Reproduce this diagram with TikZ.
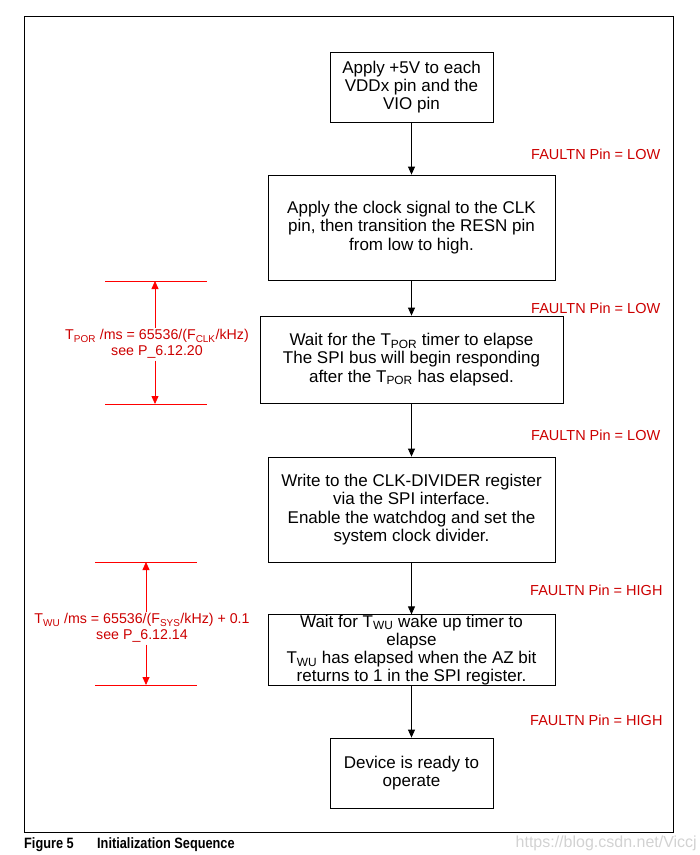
\documentclass[tikz,border=0pt]{standalone}
\usepackage{fontspec}
\setmainfont{Liberation Sans}
\newfontfamily\narrowfont[FakeStretch=0.85]{Liberation Sans}
\usetikzlibrary{arrows.meta}
\definecolor{lblred}{HTML}{CC0000}
\definecolor{linered}{HTML}{FF0000}
\begin{document}
\begin{tikzpicture}[x=1pt,y=-1pt,
 box/.style={draw, line width=0.8pt, align=center, font=\fontsize{17}{18.2}\selectfont, inner sep=0pt},
 flow/.style={-{Triangle[length=8pt,width=7pt]}, line width=0.8pt},
 faultlbl/.style={text=lblred, font=\fontsize{14.5}{16}\selectfont, anchor=west, inner sep=0pt},
 dimlbl/.style={text=lblred, font=\fontsize{14.2}{15.5}\selectfont, align=center, inner sep=2pt},
 dimline/.style={draw=linered, line width=0.8pt},
 dimarrow/.style={draw=linered, line width=0.8pt, -{Triangle[length=8pt,width=7pt,fill=linered]}}]
\useasboundingbox (0,0) rectangle (700,855);
\draw[line width=1pt] (24,16) rectangle (673,832);

\node[box, minimum width=163pt, minimum height=70pt] (b1) at (411.5,87) {Apply +5V to each\\VDDx pin and the\\VIO pin};
\node[box, minimum width=287pt, minimum height=105pt] (b2) at (411.5,227.5) {Apply the clock signal to the CLK\\pin, then transition the RESN pin\\from low to high.};
\node[box, minimum width=303pt, minimum height=87pt] (b3) at (411.5,359.5) {Wait for the T\textsubscript{POR} timer to elapse\\The SPI bus will begin responding\\after the T\textsubscript{POR} has elapsed.};
\node[box, minimum width=287pt, minimum height=105pt] (b4) at (411.5,509.5) {Write to the CLK-DIVIDER register\\via the SPI interface.\\Enable the watchdog and set the\\system clock divider.};
\node[box, minimum width=287pt, minimum height=70pt] (b5) at (411.5,650) {Wait for T\textsubscript{WU} wake up timer to\\elapse\\T\textsubscript{WU} has elapsed when the AZ bit\\returns to 1 in the SPI register.};
\node[box, minimum width=163pt, minimum height=70pt] (b6) at (411.5,773) {Device is ready to\\operate};

\draw[flow] (b1) -- (b2);
\draw[flow] (b2) -- (b3);
\draw[flow] (b3) -- (b4);
\draw[flow] (b4) -- (b5);
\draw[flow] (b5) -- (b6);

\node[faultlbl] (f1) at (531,154) {FAULTN Pin = LOW};
\node[faultlbl] (f2) at (531,308) {FAULTN Pin = LOW};
\node[faultlbl] (f3) at (531,435) {FAULTN Pin = LOW};
\node[faultlbl] (f4) at (530,590) {FAULTN Pin = HIGH};
\node[faultlbl] (f5) at (530,720) {FAULTN Pin = HIGH};

% T_POR dimension
\coordinate (p1l) at (105,281); \coordinate (p1r) at (207,281);
\coordinate (p2l) at (105,404); \coordinate (p2r) at (207,404);
\draw[dimline] (p1l) -- (p1r);
\draw[dimline] (p2l) -- (p2r);
\node[dimlbl] (tpor) at (157,344) {T\textsubscript{POR} /ms = 65536/(F\textsubscript{CLK}/kHz)\\see P\_6.12.20};
\coordinate (p1m) at (155,281); \coordinate (p2m) at (155,404);
\draw[dimarrow] (tpor.north -| p1m) -- (p1m);
\draw[dimarrow] (tpor.south -| p2m) -- (p2m);

% T_WU dimension
\coordinate (q1l) at (95,562); \coordinate (q1r) at (197,562);
\coordinate (q2l) at (95,685); \coordinate (q2r) at (197,685);
\draw[dimline] (q1l) -- (q1r);
\draw[dimline] (q2l) -- (q2r);
\node[dimlbl] (twu) at (142,628) {T\textsubscript{WU} /ms = 65536/(F\textsubscript{SYS}/kHz) + 0.1\\see P\_6.12.14};
\coordinate (q1m) at (146,562); \coordinate (q2m) at (146,685);
\draw[dimarrow] (twu.north -| q1m) -- (q1m);
\draw[dimarrow] (twu.south -| q2m) -- (q2m);

% caption
\node[anchor=west, inner sep=0pt, font=\narrowfont\bfseries\fontsize{15}{16}\selectfont] (cap1) at (24,845) {Figure 5};
\node[anchor=west, inner sep=0pt, font=\narrowfont\bfseries\fontsize{15}{16}\selectfont] (cap2) at (97,845) {Initialization Sequence};
\node[anchor=east, inner sep=0pt, text=gray!35, font=\fontsize{16}{18}\selectfont] (wm) at (697,843) {https://blog.csdn.net/Viccj};
\end{tikzpicture}
\end{document}
